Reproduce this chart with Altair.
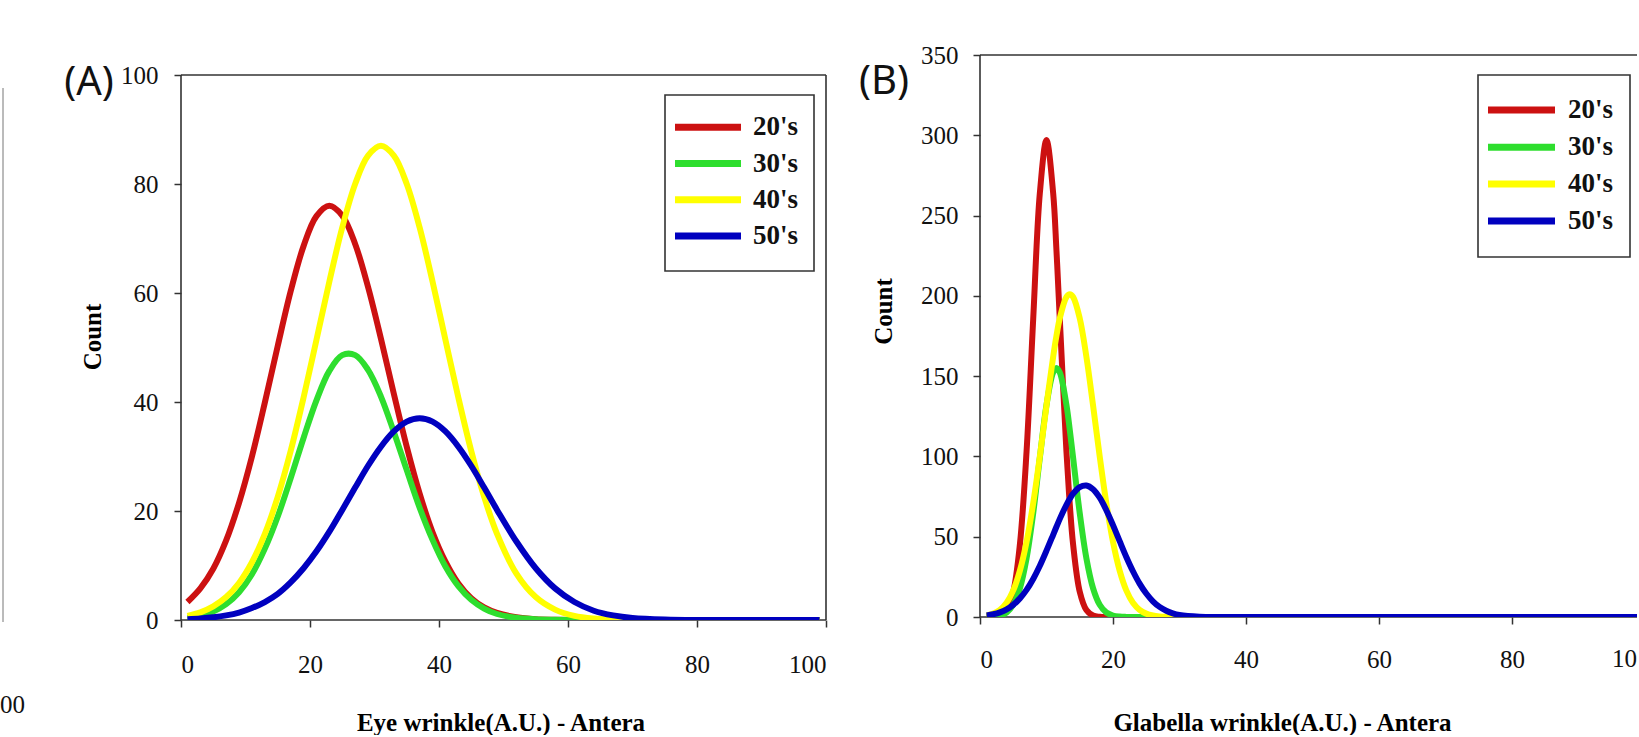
import altair as alt
import pandas as pd

AGES = ["20's", "30's", "40's", "50's"]
COLORS = ["#cc1111", "#2ede2e", "#ffff00", "#0000bf"]

# ---- Panel A : Eye wrinkle ----
XA = [1, 3, 5, 7, 9, 11, 13, 15, 17, 19, 21, 23, 25, 27, 29, 31, 33, 35, 37, 39,
      41, 43, 45, 47, 49, 52, 55, 58, 61, 64, 67, 70, 75, 80, 90, 99]
A20 = [3.3, 5.8, 9.4, 14.6, 21.5, 30.0, 39.9, 50.3, 60.3, 68.6, 74.1, 76.0, 74.2, 69.0,
       61.1, 51.6, 41.5, 31.8, 23.2, 16.1, 10.7, 6.7, 4.0, 2.3, 1.3, 0.5, 0.15, 0.05,
       0, 0, 0, 0, 0, 0, 0, 0]
A30 = [0.37, 0.79, 1.56, 2.9, 5.1, 8.4, 13.1, 19.0, 26.0, 33.4, 40.3, 45.7, 48.6, 48.6,
       45.9, 41.0, 34.5, 27.5, 20.6, 14.7, 9.8, 6.2, 3.7, 2.1, 1.1, 0.4, 0.12, 0.03,
       0, 0, 0, 0, 0, 0, 0, 0]
A40 = [0.76, 1.4, 2.5, 4.2, 6.8, 10.6, 15.8, 22.6, 31.0, 40.8, 51.4, 62.1, 72.0, 80.0,
       85.2, 87.0, 85.2, 80.0, 72.0, 62.1, 51.4, 40.8, 31.0, 22.6, 15.8, 8.5, 4.2, 1.9,
       0.76, 0.28, 0.1, 0.03, 0, 0, 0, 0]
A50 = [0.16, 0.29, 0.5, 0.84, 1.37, 2.2, 3.3, 4.8, 6.9, 9.5, 12.6, 16.2, 20.2, 24.3,
       28.3, 31.8, 34.6, 36.4, 37.0, 36.4, 34.6, 31.8, 28.3, 24.3, 20.2, 14.4, 9.5, 5.8,
       3.3, 1.7, 0.84, 0.38, 0.09, 0, 0, 0]

# ---- Panel B : Glabella wrinkle ----
XB = [1, 2, 3, 4, 5, 6, 7, 8, 9, 10, 11, 11.5, 12, 13, 13.5, 14, 15, 16, 17, 18, 19,
      20, 21, 22, 23, 24, 25, 26, 27, 28, 29, 30, 33, 36, 40, 50, 60, 70, 80, 90, 100]
B20 = [0.02, 0.16, 0.93, 4.3, 15.7, 45.2, 103, 185.5, 264, 297, 264, 228, 185.5, 103,
       70.3, 45.2, 15.7, 4.3, 0.93, 0.16, 0.02,
       0, 0, 0, 0, 0, 0, 0, 0, 0, 0, 0, 0, 0, 0, 0, 0, 0, 0, 0, 0]
B30 = [0.06, 0.25, 0.9, 2.8, 7.6, 17.9, 36.5, 64.6, 99.2, 132, 152.3, 155, 152.3, 132,
       116.5, 99.2, 64.6, 36.5, 17.9, 7.6, 2.8, 0.9, 0.25, 0.06,
       0, 0, 0, 0, 0, 0, 0, 0, 0, 0, 0, 0, 0, 0, 0, 0, 0]
B40 = [0.92, 2.1, 4.5, 8.9, 16.6, 28.9, 46.8, 70.8, 100, 131.8, 162, 175.1, 186, 199.3,
       201, 199.3, 186, 162, 131.8, 100, 70.8, 46.8, 28.9, 16.6, 8.9, 4.5, 2.1, 0.92,
       0.37, 0.14, 0.05, 0.02, 0, 0, 0, 0, 0, 0, 0, 0, 0]
B50 = [0.94, 1.7, 2.9, 4.8, 7.6, 11.6, 16.9, 23.7, 31.9, 41.3, 51.2, 56.2, 61.1, 69.9,
       73.6, 76.8, 80.9, 81.9, 79.6, 74.3, 66.5, 57.2, 47.2, 37.4, 28.5, 20.8, 14.6, 9.8,
       6.3, 3.9, 2.3, 1.3, 0.2, 0, 0, 0, 0, 0, 0, 0, 0]

A_XTICKS = [0, 20, 40, 60, 80, 100]
B_XTICKS = [0, 20, 40, 60, 80]
A_YTICKS = [0, 20, 40, 60, 80, 100]
B_YTICKS = [0, 50, 100, 150, 200, 250, 300, 350]

SERIF = "Liberation Serif"
ONE = pd.DataFrame({"k": [0]})
FRAME = "#333333"


def long_df(xs, series):
    rows = []
    for age, ys in zip(AGES, series):
        for x, y in zip(xs, ys):
            rows.append({"age": age, "x": x, "y": y})
    return pd.DataFrame(rows)


def make_panel(df, width, height, xmax, ydom, ytop, xticks, yticks, xtitle, xt_x, xt_y,
               xlabpad, yt_x, yt_y, ylabpad, leg, tag, tag_xy, right_frame, extra):
    xs = alt.Scale(domain=[0, xmax], nice=False, zero=False)
    ys = alt.Scale(domain=[0, ydom], nice=False, zero=False)
    xaxis = alt.Axis(values=xticks, title=xtitle, titleX=xt_x, titleY=xt_y,
                     titleBaseline="alphabetic", titleAlign="center",
                     labelPadding=xlabpad, domain=False, format="d")
    yaxis = alt.Axis(values=yticks, title="Count", titleX=yt_x, titleY=yt_y,
                     titleAngle=270, titleBaseline="middle", titleAlign="center",
                     labelPadding=ylabpad, domain=False, format="d")
    xd = lambda v: alt.XDatum(v, type="quantitative", scale=xs, axis=xaxis)
    yd = lambda v: alt.YDatum(v, type="quantitative", scale=ys, axis=yaxis)
    rule = dict(color=FRAME, strokeWidth=1.6)
    layers = [
        alt.Chart(ONE).mark_rule(**rule).encode(x=xd(0), x2=alt.X2Datum(xmax), y=yd(0)),
        alt.Chart(ONE).mark_rule(**rule).encode(x=xd(0), x2=alt.X2Datum(xmax), y=yd(ytop)),
        alt.Chart(ONE).mark_rule(**rule).encode(x=xd(0), y=yd(0), y2=alt.Y2Datum(ytop)),
    ]
    if right_frame:
        layers.append(alt.Chart(ONE).mark_rule(**rule).encode(
            x=xd(xmax), y=yd(0), y2=alt.Y2Datum(ytop)))
    layers.append(alt.Chart(df).mark_line(strokeWidth=6, interpolate="catmull-rom", clip=True).encode(
        x=alt.X("x:Q", scale=xs, axis=xaxis),
        y=alt.Y("y:Q", scale=ys, axis=yaxis),
        color=alt.Color("age:N", scale=alt.Scale(domain=AGES, range=COLORS), legend=None),
    ))
    # legend box
    bx0, bx1, by0, by1, lx0, lx1, tx, rows = leg
    layers.append(alt.Chart(ONE).mark_rect(fill="white", stroke=FRAME, strokeWidth=1.6).encode(
        x=alt.value(bx0), x2=alt.value(bx1), y=alt.value(by0), y2=alt.value(by1)))
    for age, col, ry in zip(AGES, COLORS, rows):
        d = pd.DataFrame({"age": [age]})
        layers.append(alt.Chart(d).mark_rule(strokeWidth=7, color=col).encode(
            x=alt.value(lx0), x2=alt.value(lx1), y=alt.value(ry)))
        layers.append(alt.Chart(d).mark_text(align="left", baseline="middle", font=SERIF,
                                             fontWeight="bold", fontSize=27, color="#111111").encode(
            x=alt.value(tx), y=alt.value(ry), text="age:N"))
    layers.append(alt.Chart(ONE).mark_text(text=tag, font="Noto Sans", fontSize=40,
                                           align="center", baseline="middle", color="#111111").encode(
        x=alt.value(tag_xy[0]), y=alt.value(tag_xy[1])))
    layers.extend(extra)
    return alt.layer(*layers).properties(width=width, height=height)


# extra decorations for panel A (edge of a neighbouring panel + layout bounds)
extra_a = [
    alt.Chart(ONE).mark_rule(opacity=0).encode(
        x=alt.value(-181), x2=alt.value(670), y=alt.value(0)),
    alt.Chart(ONE).mark_text(text="00", font=SERIF, fontSize=25, align="left",
                             baseline="middle", color="#111111").encode(
        x=alt.value(-181), y=alt.value(650)),
    alt.Chart(ONE).mark_rule(color="#777777", strokeWidth=1).encode(
        x=alt.value(-178), y=alt.value(33), y2=alt.value(567)),
]
# panel B is cut off by the picture's right edge: partial "100" label
B_W = 657
extra_b = [
    alt.Chart(ONE).mark_rule(opacity=0).encode(
        x=alt.value(-129), x2=alt.value(0), y=alt.value(-55)),
    alt.Chart(ONE).mark_text(text="10", font=SERIF, fontSize=25, align="right",
                             baseline="middle", color="#111111").encode(
        x=alt.value(B_W), y=alt.value(604)),
]

panel_a = make_panel(
    long_df(XA, [A20, A30, A40, A50]), 645, 565, 100, 100 * 565 / 545, 100,
    A_XTICKS, A_YTICKS,
    "Eye wrinkle(A.U.) - Antera", 319.5, 110, 25, -89, 281.5, 16,
    (484, 633, 40, 216, 494, 560, 572, [72.3, 108.5, 144.7, 181]),
    "(A)", (-92, 28), True, extra_a)

panel_b = make_panel(
    long_df(XB, [B20, B30, B40, B50]), B_W, 562, B_W / 6.65, 350, 350,
    B_XTICKS, B_YTICKS,
    "Glabella wrinkle(A.U.) - Antera", 302, 113, 23.5, -97, 256, 15,
    (498, 650, 20, 202, 508, 575, 588, [55, 92.3, 129, 166]),
    "(B)", (-96, 27), False, extra_b)

chart = alt.hconcat(panel_a, panel_b, spacing=0).properties(
    padding=0, background="white"
).configure_view(
    stroke="transparent", strokeWidth=0
).configure_axis(
    labelFont=SERIF, labelFontSize=25, labelColor="#111111",
    tickColor=FRAME, tickWidth=1.5, tickSize=7, grid=False,
    titleFont=SERIF, titleFontSize=25, titleFontWeight="bold", titleColor="#000000",
)

chart.save("out.html", embed_options={"renderer": "svg", "actions": False})
